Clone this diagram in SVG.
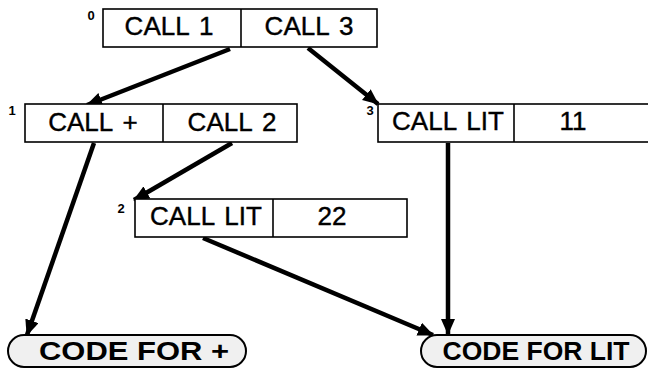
<svg xmlns="http://www.w3.org/2000/svg" width="648" height="370" viewBox="0 0 648 370">
<style>
.box{fill:#fff;stroke:#000;stroke-width:1.6}
.div{stroke:#000;stroke-width:1.6}
.t{font-family:"Liberation Sans",Arial,sans-serif;font-size:26px;fill:#000;stroke:#000;stroke-width:0.4;text-anchor:middle;word-spacing:3px}
.n{font-family:"Liberation Sans",Arial,sans-serif;font-size:13px;font-weight:bold;fill:#000;text-anchor:middle}
.pill{fill:#f0f0f0;stroke:#000;stroke-width:2}
.pt{font-family:"Liberation Sans",Arial,sans-serif;font-size:25px;font-weight:bold;fill:#000;text-anchor:middle}
.c{stroke:#000;stroke-width:4.5;fill:none;marker-end:url(#ah)}
</style>
<defs>
<marker id="ah" markerUnits="userSpaceOnUse" viewBox="0 0 16 14" markerWidth="16" markerHeight="14" refX="15" refY="7" orient="auto">
<path d="M0,0 L16,7 L0,14 Z" fill="#000"/>
</marker>
</defs>
<g id="connectors">
<line class="c" x1="230" y1="49" x2="87" y2="105"/>
<line class="c" x1="308" y1="48" x2="378" y2="104"/>
<line class="c" x1="94" y1="143" x2="27" y2="335"/>
<line class="c" x1="232" y1="143" x2="134" y2="200"/>
<line class="c" x1="448" y1="143" x2="448" y2="334"/>
<line class="c" x1="203" y1="238" x2="433" y2="335"/>
</g>
<g id="node0">
<rect class="box" x="103" y="9" width="274" height="38"/>
<line class="div" x1="241" y1="9" x2="241" y2="47"/>
<text class="t" x="169" y="35">CALL 1</text>
<text class="t" x="309" y="35">CALL 3</text>
<text class="n" x="91" y="20">0</text>
</g>
<g id="node1">
<rect class="box" x="25" y="104" width="272" height="38"/>
<line class="div" x1="163" y1="104" x2="163" y2="142"/>
<text class="t" x="93" y="131">CALL +</text>
<text class="t" x="232" y="131">CALL 2</text>
<text class="n" x="12" y="115">1</text>
</g>
<g id="node3">
<rect class="box" x="378" y="104" width="280" height="38"/>
<line class="div" x1="514" y1="104" x2="514" y2="142"/>
<text class="t" x="448" y="130">CALL LIT</text>
<text class="t" x="573" y="130">11</text>
<text class="n" x="370" y="115">3</text>
</g>
<g id="node2">
<rect class="box" x="135" y="199" width="272" height="38"/>
<line class="div" x1="273" y1="199" x2="273" y2="237"/>
<text class="t" x="206" y="225">CALL LIT</text>
<text class="t" x="332" y="225">22</text>
<text class="n" x="121" y="213">2</text>
</g>
<g id="codeplus">
<rect class="pill" x="8" y="335" width="238" height="32" rx="16" ry="16"/>
<text class="pt" x="134" y="360" textLength="190" lengthAdjust="spacingAndGlyphs">CODE FOR +</text>
</g>
<g id="codelit">
<rect class="pill" x="421" y="335" width="225" height="32" rx="16" ry="16"/>
<text class="pt" x="536" y="360" textLength="187" lengthAdjust="spacingAndGlyphs">CODE FOR LIT</text>
</g>
</svg>
